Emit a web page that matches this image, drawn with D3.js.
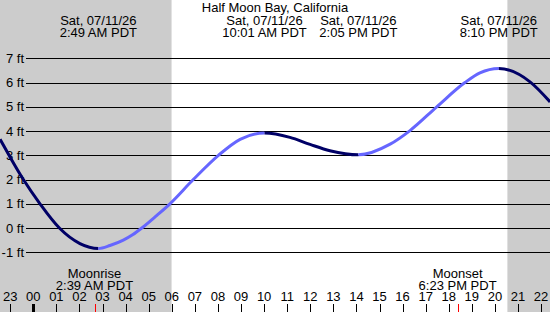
<!DOCTYPE html>
<html>
<head>
<meta charset="utf-8">
<script src="https://cdn.jsdelivr.net/npm/d3@7"></script>
<style>
body { margin: 0; background: #fff; }
svg text { font-family: "Liberation Sans", Arial, sans-serif; font-size: 13px; fill: #000; }
</style>
</head>
<body>
<div id="chart"></div>
<script>
var W = 550, H = 312;

// tide curve (hours from midnight 07/11, feet)
var tideHours = [-1.44, -1.05, -0.43, 0.29, 1.13, 2.02, 2.82, 3.32, 3.9, 4.3, 4.7, 5.3, 5.92, 6.93, 8.02, 8.96, 10.02, 11.12, 11.99, 12.85, 14.08, 15.46, 16.32, 17.48, 18.7, 19.35, 20.17, 21.52, 22.39];
var tideFeet  = [3.66, 3.0, 2.0, 1.0, 0.0, -0.64, -0.84, -0.72, -0.5, -0.28, 0.0, 0.48, 1.0, 2.0, 3.0, 3.66, 3.92, 3.74, 3.45, 3.19, 3.02, 3.46, 4.02, 5.0, 6.0, 6.4, 6.58, 6.03, 5.2];

// high / low events
var eventHours = [2.817, 10.017, 14.083, 20.167];
var eventLabels = ["2:49 AM PDT", "10:01 AM PDT", "2:05 PM PDT", "8:10 PM PDT"];
var eventDate = "Sat, 07/11/26";

// moon
var moonHours = [2.65, 18.383];
var moonNames = ["Moonrise", "Moonset"];
var moonLabels = ["2:39 AM PDT", "6:23 PM PDT"];

// daylight
var sunrise = 5.99, sunset = 20.54;

var hourTicks = d3.range(-1, 23);
var ftTicks = d3.range(-1, 8);

var title = "Half Moon Bay, California";

var x = d3.scaleLinear().domain([0, 22]).range([33.3, 541.1]);
var y = d3.scaleLinear().domain([-1, 7]).range([252.3, 58.3]);

var svg = d3.select("#chart").append("svg")
  .attr("width", W)
  .attr("height", H);

// night shading
svg.append("rect").attr("x", 0).attr("y", 0)
  .attr("width", x(sunrise)).attr("height", H).attr("fill", "#cccccc");
svg.append("rect").attr("x", x(sunset)).attr("y", 0)
  .attr("width", W - x(sunset)).attr("height", H).attr("fill", "#cccccc");

// grid lines + labels
svg.selectAll(".grid").data(ftTicks).enter().append("line")
  .attr("x1", 26).attr("x2", W)
  .attr("y1", function(d) { return Math.round(y(d)) + 0.5; })
  .attr("y2", function(d) { return Math.round(y(d)) + 0.5; })
  .attr("stroke", "#000").attr("stroke-width", 1);

svg.selectAll(".ftlab").data(ftTicks).enter().append("text")
  .attr("x", 24)
  .attr("y", function(d) { return y(d); })
  .attr("dy", "0.35em")
  .attr("text-anchor", "end")
  .text(function(d) { return d + " ft"; });

// tide curve, dark when falling and light when rising
var pts = tideHours.map(function(h, i) { return [h, tideFeet[i]]; });
var line = d3.line()
  .x(function(d) { return x(d[0]); })
  .y(function(d) { return y(d[1]); })
  .curve(d3.curveMonotoneX);

var bounds = [-5].concat(eventHours).concat([30]);
var defs = svg.append("defs");
for (var i = 0; i < bounds.length - 1; i++) {
  defs.append("clipPath").attr("id", "seg" + i)
    .append("rect")
    .attr("x", x(bounds[i])).attr("y", 0)
    .attr("width", x(bounds[i + 1]) - x(bounds[i])).attr("height", H);
  svg.append("path")
    .datum(pts)
    .attr("d", line)
    .attr("fill", "none")
    .attr("stroke", i % 2 == 0 ? "#000066" : "#6666ff")
    .attr("stroke-width", 3)
    .attr("clip-path", "url(#seg" + i + ")");
}

// title and events
svg.append("text").attr("x", W / 2).attr("y", 12)
  .attr("text-anchor", "middle").text(title);

var ev = svg.selectAll(".ev").data(eventHours).enter().append("g");
ev.append("text")
  .attr("x", function(d) { return x(d); }).attr("y", 25)
  .attr("text-anchor", "middle").text(eventDate);
ev.append("text")
  .attr("x", function(d) { return x(d); }).attr("y", 37)
  .attr("text-anchor", "middle")
  .text(function(d, i) { return eventLabels[i]; });

// moon events
var mo = svg.selectAll(".moon").data(moonHours).enter().append("g");
mo.append("text")
  .attr("x", function(d) { return x(d); }).attr("y", 278)
  .attr("text-anchor", "middle")
  .text(function(d, i) { return moonNames[i]; });
mo.append("text")
  .attr("x", function(d) { return x(d); }).attr("y", 289.5)
  .attr("text-anchor", "middle")
  .text(function(d, i) { return moonLabels[i]; });
mo.append("line")
  .attr("x1", function(d) { return Math.round(x(d) + 0.5) + 0.5; })
  .attr("x2", function(d) { return Math.round(x(d) + 0.5) + 0.5; })
  .attr("y1", 304).attr("y2", H)
  .attr("stroke", "red");

// hour axis
svg.selectAll(".hlab").data(hourTicks).enter().append("text")
  .attr("x", function(d) { return x(d); }).attr("y", 301)
  .attr("text-anchor", "middle")
  .text(function(d) { return d3.format("02")((d + 24) % 24); });

svg.selectAll(".htick").data(hourTicks).enter().append("line")
  .attr("x1", function(d) { return Math.round(x(d)) + 0.5; })
  .attr("x2", function(d) { return Math.round(x(d)) + 0.5; })
  .attr("y1", 304).attr("y2", H)
  .attr("stroke", "#000")
  .attr("stroke-width", function(d) { return d == 0 ? 3 : 1; });
</script>
</body>
</html>
